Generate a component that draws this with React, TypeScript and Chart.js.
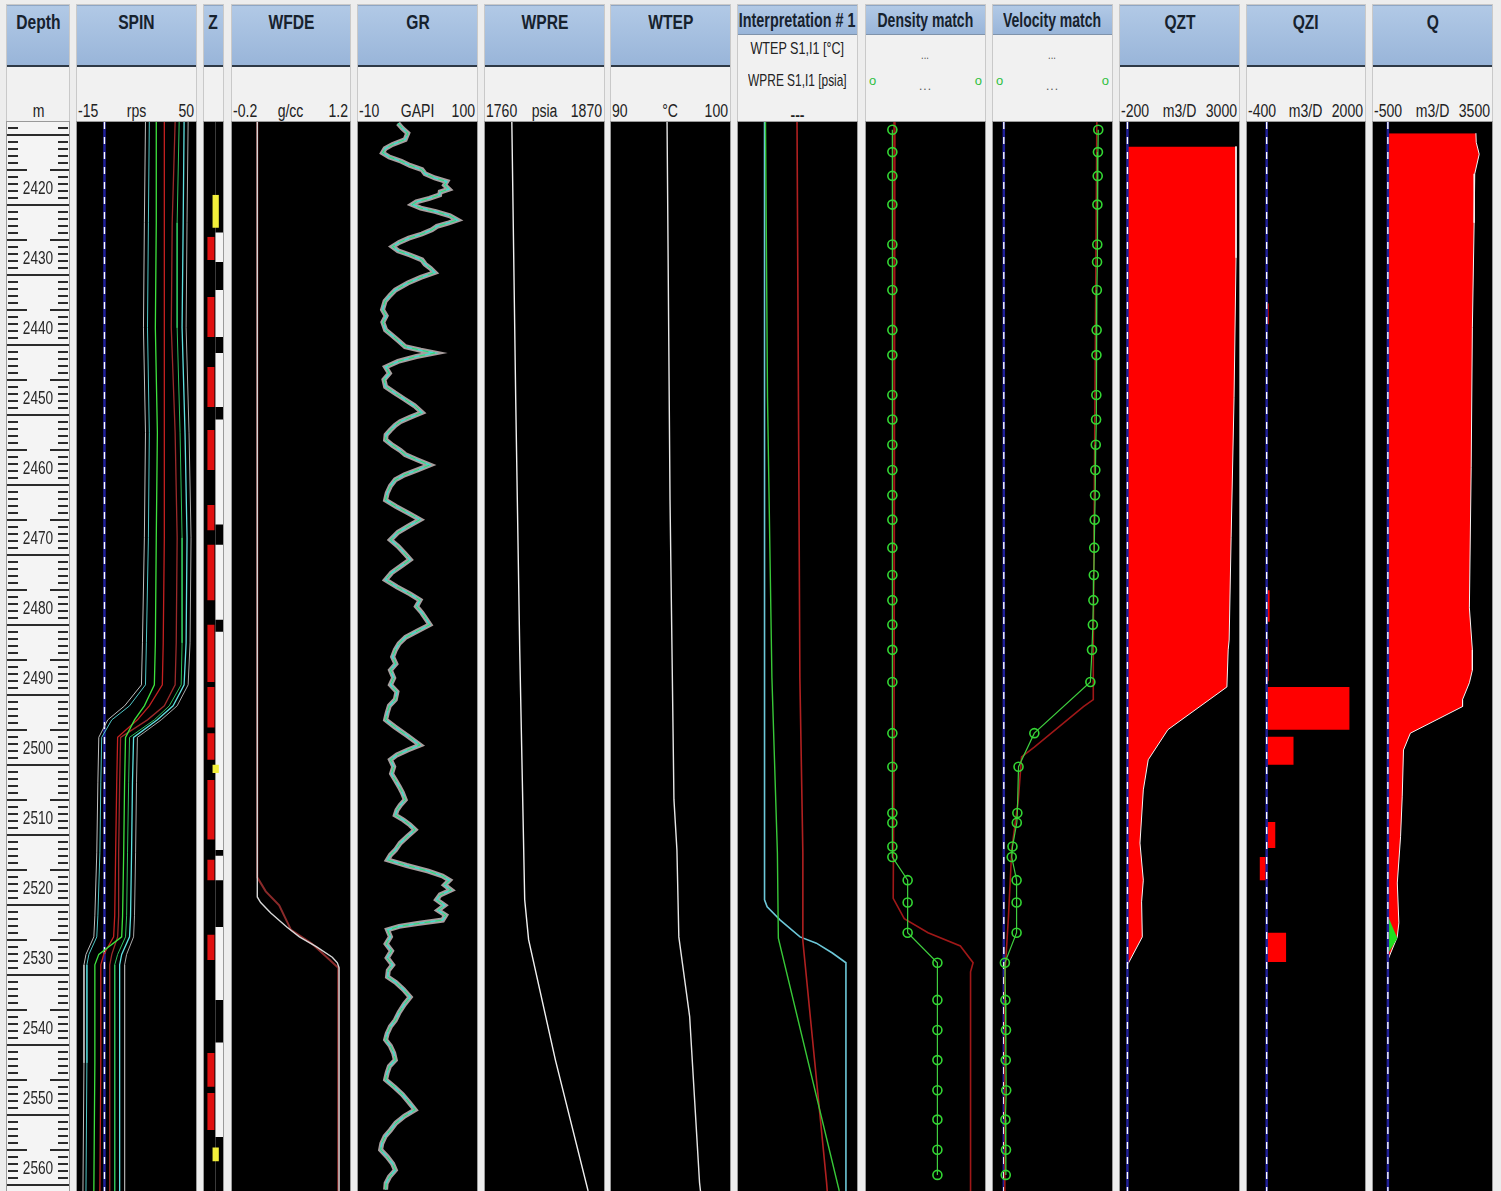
import React, { useEffect, useRef } from "react";
import { Chart, registerables } from "chart.js";

Chart.register(...registerables);

const DEPTH_MIN = 2410.6;
const DEPTH_MAX = 2563.3;
const PLOT_TOP = 122;
const PLOT_H = 1069;
const FONT = '"Liberation Sans", Arial, sans-serif';

const depthLabels = [2420, 2430, 2440, 2450, 2460, 2470, 2480, 2490, 2500, 2510, 2520, 2530, 2540, 2550, 2560];

// ---- SPIN (rps) ----
const spinDepths = [2410.6, 2425, 2440, 2455, 2470, 2485, 2491, 2494, 2496, 2498.5, 2505, 2515, 2524, 2527, 2529.5, 2531, 2545, 2563.3];
const spinPass1 = [22.4, 21.8, 21.3, 22.4, 21.8, 20.75, 20.2, 11.0, 1.8, -3.1, -3.6, -4.2, -5.25, -5.8, -10.1, -11.2, -11.2, -11.75];
const spinPass2 = [24.5, 24.0, 23.5, 24.5, 24.0, 22.9, 22.4, 13.7, 4.0, -1.5, -2.0, -2.5, -3.6, -4.2, -8.5, -9.6, -9.6, -10.1];
const spinPass3 = [28.3, 28.3, 27.8, 28.9, 28.3, 27.8, 27.25, 21.8, 16.4, 11.5, 11.0, 10.5, 9.9, 9.4, -3.1, -5.25, -5.25, -5.8];
const spinPass4 = [32.7, 32.7, 32.7, 32.7, 32.7, 32.1, 31.6, 24.5, 18.0, 7.2, 6.7, 6.1, 5.6, 5.0, -0.4, -2.0, -2.0, -2.5];
const spinPass5 = [38.6, 37.0, 36.5, 38.6, 39.7, 39.2, 38.6, 32.7, 23.5, 8.8, 8.3, 7.75, 7.75, 7.2, 4.0, 2.9, 2.9, 2.9];
const spinPass6 = [40.8, 39.7, 39.7, 41.3, 42.4, 42.4, 41.9, 35.4, 27.25, 13.7, 13.2, 12.6, 12.1, 11.5, 7.2, 5.6, 5.6, 5.6];
const spinPass7 = [43.5, 43.0, 42.4, 44.0, 45.1, 44.6, 43.5, 37.5, 28.9, 15.9, 15.3, 14.8, 14.25, 13.7, 9.4, 8.3, 8.3, 8.3];
const spinPass8 = [45.7, 45.1, 44.6, 46.2, 47.3, 46.75, 45.7, 39.7, 31.0, 18.0, 17.5, 17.0, 16.4, 15.9, 12.1, 11.0, 11.0, 11.0];

// ---- Z zones ----
const zRedTop = [2427.0, 2435.6, 2445.6, 2454.6, 2465.3, 2471.0, 2482.4, 2491.3, 2497.9, 2504.6, 2516.0, 2526.7, 2543.6, 2549.3];
const zRedBottom = [2430.3, 2441.3, 2451.3, 2460.3, 2468.9, 2478.9, 2490.6, 2497.1, 2501.7, 2513.1, 2518.9, 2530.3, 2548.4, 2554.6];
const zBlackTop = [2410.6, 2430.6, 2441.3, 2451.3, 2468.1, 2481.7, 2514.6, 2518.9, 2536.0, 2555.6];
const zBlackBottom = [2426.4, 2434.6, 2443.6, 2453.1, 2471.0, 2483.4, 2515.4, 2525.6, 2542.1, 2563.3];
const zYellowTop = [2421.0, 2502.4, 2557.1];
const zYellowBottom = [2425.7, 2503.6, 2559.1];

// ---- WFDE (g/cc) ----
const wfdeDepths = [2410.6, 2460, 2500, 2521.3, 2522.1, 2523.6, 2525.6, 2527.0, 2528.4, 2529.9, 2530.7, 2531.4, 2563.3];
const wfdeValues = [0.1, 0.1, 0.1, 0.1, 0.14, 0.26, 0.45, 0.6, 0.8, 0.99, 1.05, 1.07, 1.07];
const wfdeAltDepths = [2410.6, 2518.5, 2520.5, 2522.5, 2524.0, 2526.0, 2528.0, 2531.4, 2563.3];
const wfdeAltValues = [0.1, 0.1, 0.2, 0.36, 0.42, 0.5, 0.75, 1.06, 1.06];

// ---- GR (GAPI) ----
const grDepths = [
  2410.8, 2411.5, 2412.2, 2413.1, 2413.8, 2414.4, 2415.0, 2415.6, 2416.2, 2416.8, 2417.4, 2418.0, 2418.6, 2419.1, 2419.6, 2420.2, 2420.6, 2421.0, 2421.5, 2422.0,
  2422.4, 2422.9, 2423.4, 2424.0, 2424.6, 2425.0, 2425.5, 2426.0, 2426.6, 2427.2, 2427.8, 2428.4, 2429.0, 2429.6, 2430.3, 2430.9, 2431.5, 2432.1, 2432.8, 2433.6,
  2434.6, 2435.3, 2436.2, 2437.4, 2438.3, 2439.2, 2440.3, 2441.0, 2441.8, 2442.7, 2443.2, 2443.6, 2444.1, 2444.8, 2445.6, 2446.5, 2447.4, 2448.4, 2449.3, 2450.2,
  2451.1, 2452.1, 2452.8, 2453.4, 2453.9, 2454.6, 2455.3, 2456.0, 2456.8, 2457.5, 2458.1, 2458.8, 2459.6, 2460.3, 2461.0, 2461.7, 2462.6, 2463.6, 2464.6, 2465.5,
  2466.5, 2467.4, 2468.2, 2469.2, 2470.3, 2471.2, 2472.2, 2473.1, 2474.0, 2475.0, 2476.0, 2477.0, 2478.0, 2478.9, 2479.8, 2480.7, 2481.6, 2482.4, 2483.3, 2484.2,
  2485.1, 2486.0, 2487.0, 2488.0, 2488.9, 2490.0, 2491.0, 2492.0, 2493.1, 2494.0, 2495.0, 2496.0, 2497.0, 2498.3, 2499.6, 2500.3, 2501.0, 2501.7, 2502.7, 2503.7,
  2504.6, 2505.5, 2506.4, 2507.4, 2508.2, 2508.9, 2509.6, 2510.3, 2511.0, 2511.7, 2512.6, 2513.6, 2514.6, 2515.3, 2516.0, 2516.8, 2517.6, 2518.3, 2518.9, 2519.6,
  2520.3, 2521.0, 2521.7, 2522.5, 2523.2, 2523.9, 2524.6, 2525.1, 2525.5, 2526.0, 2527.0, 2528.0, 2529.0, 2530.0, 2531.0, 2531.8, 2532.7, 2533.5, 2534.5, 2535.6,
  2536.6, 2537.8, 2538.9, 2539.8, 2540.8, 2541.7, 2542.6, 2543.6, 2544.6, 2545.5, 2546.4, 2547.4, 2548.5, 2549.5, 2550.6, 2551.7, 2552.6, 2553.6, 2554.6, 2555.5,
  2556.5, 2557.4, 2558.4, 2559.4, 2560.3, 2561.3, 2562.2, 2563.1,
];
const grValues = [
  27, 31, 36, 33.6, 22, 15, 12.7, 19, 30, 38, 49.1, 52, 61, 72, 70.0, 74, 66, 65.5, 56, 44,
  40.0, 48, 62, 75, 81.8, 74, 63, 58.2, 49, 37, 28, 21.8, 27, 38, 49.1, 52, 57, 60.9, 48, 36,
  24.5, 20, 15, 12.7, 16, 13, 15.5, 21, 27, 33.6, 48, 60.9, 44, 27, 15.5, 19, 14, 15.5, 24, 33,
  42, 49.1, 38, 29, 24.5, 20, 16, 15.5, 22, 29, 33.6, 44, 56.4, 45, 33, 24.5, 20, 17, 15.5, 25,
  37, 47.3, 38, 27, 20.0, 27, 33, 38.2, 30, 21, 15.5, 26, 38, 47.3, 44, 49, 53, 56.4, 45, 34,
  28, 24.5, 22, 25, 20.0, 23, 20, 26, 24.5, 19, 17, 15.5, 24, 36, 47.3, 36, 26, 20.0, 23, 21,
  24.5, 28, 31, 33.6, 29, 26, 24.5, 32, 38, 42.7, 36, 29, 24.5, 20, 17.3, 35, 55, 68, 74.5, 70,
  76, 66, 62.7, 70, 64, 71, 68.2, 45, 28, 17.3, 20, 16, 21, 17, 22, 18, 17.3, 25, 32, 38.2,
  33, 28, 24.5, 20, 17, 15.5, 20, 23, 24.5, 19, 17, 15.5, 24, 31, 37, 42.7, 33, 25, 20.0, 15,
  12, 10.9, 17, 22, 24.5, 19, 16, 15.5,
];

// ---- WPRE (psia) ----
const wpreDepths = [2410.6, 2450.3, 2486.0, 2521.7, 2527.4, 2544.6, 2563.3];
const wpreValues = [1784.8, 1788.4, 1792.1, 1796.7, 1800.3, 1825.1, 1855.3];

// ---- WTEP (degC) ----
const wtepDepths = [2410.6, 2464.6, 2507.4, 2514.6, 2527.0, 2538.4, 2562.1, 2563.3];
const wtepValues = [94.71, 94.96, 95.29, 95.54, 95.70, 96.61, 97.44, 97.52];

// ---- Interpretation #1 (percent of track) ----
const interpTempDepths = [2410.6, 2450, 2490, 2515, 2527.2, 2563.3];
const interpTempValues = [23.1, 24.8, 28.5, 33.1, 33.9, 85.1];
const interpPresDepths = [2410.6, 2490, 2515, 2527.6, 2562, 2563.3];
const interpPresValues = [49.6, 52.0, 54.5, 54.5, 74.4, 75.0];
const interpDensDepths = [2410.6, 2521.7, 2522.7, 2524.6, 2527.0, 2527.9, 2529.3, 2530.7, 2563.3];
const interpDensValues = [22.3, 22.3, 24.5, 35.5, 52.1, 65.9, 79.3, 90.7, 90.7];

// ---- Stations (density / velocity match) ----
const stationDepths = [2411.7, 2414.9, 2418.3, 2422.4, 2428.1, 2430.6, 2434.6, 2440.3, 2443.9, 2449.6, 2453.1, 2456.7, 2460.3, 2463.9, 2467.4, 2471.4, 2475.3, 2478.9, 2482.4, 2486.0, 2490.6, 2497.9, 2502.7, 2509.3, 2510.7, 2514.1, 2515.6, 2518.9, 2522.1, 2526.4, 2530.7, 2536.0, 2540.3, 2544.6, 2548.9, 2553.1, 2557.4, 2561.0];
const densityStations = [0.11, 0.11, 0.11, 0.11, 0.11, 0.11, 0.11, 0.11, 0.11, 0.11, 0.11, 0.11, 0.11, 0.11, 0.11, 0.11, 0.11, 0.11, 0.11, 0.11, 0.11, 0.11, 0.11, 0.11, 0.11, 0.11, 0.11, 0.29, 0.29, 0.29, 0.64, 0.64, 0.64, 0.64, 0.64, 0.64, 0.64, 0.64];
const velocityStations = [87.3, 87.0, 86.8, 86.5, 86.4, 86.2, 86.0, 85.8, 85.6, 85.5, 85.3, 85.0, 84.6, 84.3, 84.0, 83.6, 83.2, 82.8, 82.3, 81.5, 80.0, 28.2, 13.6, 12.5, 12.0, 8.0, 7.3, 11.8, 11.8, 11.8, 1.0, 1.5, 2.0, 1.8, 2.2, 1.5, 2.0, 1.8];
const densityModelDepths = [2410.6, 2500, 2521.5, 2524.4, 2526.4, 2528.3, 2530.7, 2532.0, 2563.3];
const densityModelValues = [0.14, 0.13, 0.12, 0.25, 0.53, 0.91, 1.06, 1.03, 1.03];
const velocityModelDepths = [2410.6, 2486.0, 2493.1, 2494.1, 2499.9, 2501.3, 2507.4, 2514.6, 2524.1, 2532.7, 2563.3];
const velocityModelValues = [86.0, 82.7, 82.7, 73.6, 28.2, 16.4, 13.4, 7.3, 4.3, 0.9, 0.9];

// ---- QZT (m3/D) ----
const qztDepths = [2414.1, 2430, 2450, 2470, 2484.6, 2486.0, 2491.3, 2497.4, 2501.7, 2506.0, 2513.6, 2518.9, 2522.0, 2527.0, 2530.3, 2531.0];
const qztValues = [2920, 2920, 2867, 2788, 2735, 2709, 2675, 1088, 559, 427, 337, 427, 381, 400, 72, 0];

// ---- QZI (m3/D) ----
const qziTop = [2436.5, 2477.5, 2484.5, 2491.3, 2498.4, 2510.6, 2515.6, 2526.4];
const qziBottom = [2439.5, 2482.0, 2490.5, 2497.4, 2502.4, 2514.3, 2518.9, 2530.6];
const qziValues = [40, 60, 40, 1683, 546, 175, -140, 395];

// ---- Q (m3/D) ----
const qDepths = [2412.2, 2413.5, 2415.2, 2418.0, 2425.0, 2440.0, 2460.0, 2480.0, 2486.0, 2488.9, 2490.7, 2493.1, 2494.1, 2497.9, 2500.3, 2507.0, 2512.7, 2519.3, 2525.0, 2527.0, 2529.3, 2530.3];
const qValues = [2960, 2970, 3070, 2920, 2900, 2840, 2800, 2740, 2840, 2840, 2740, 2510, 2510, 756, 525, 482, 426, 317, 369, 317, 95, 0];
const qSecondDepths = [2524.0, 2525.5, 2527.2, 2529.4];
const qSecondValues = [0, 150, 320, 0];

// ---- header scale labels ----
const spinScale = ["-15", "rps", "50"];
const wfdeScale = ["-0.2", "g/cc", "1.2"];
const grScale = ["-10", "GAPI", "100"];
const wpreScale = ["1760", "psia", "1870"];
const wtepScale = ["90", "\u00B0C", "100"];
const qztScale = ["-200", "m3/D", "3000"];
const qziScale = ["-400", "m3/D", "2000"];
const qScale = ["-500", "m3/D", "3500"];
const interpLegend = ["WTEP  S1,I1 [\u00B0C]", "WPRE  S1,I1 [psia]"];

// ---------- helpers ----------
type P = { x: number; y: number };
const pts = (ds: number[], vs: number[]): P[] => ds.map((d, i) => ({ x: vs[i], y: d }));
const blocks = (tops: number[], bottoms: number[], values: number[] | number, base: number): P[] => {
  const out: P[] = [];
  tops.forEach((t, i) => {
    const v = Array.isArray(values) ? values[i] : values;
    out.push({ x: base, y: t }, { x: v, y: t }, { x: v, y: bottoms[i] }, { x: base, y: bottoms[i] });
  });
  return out;
};
const line = (data: P[], color: string, width = 1, extra: any = {}) => ({
  data, borderColor: color, borderWidth: width, pointRadius: 0, fill: false, ...extra,
});
// painted bottom-to-top in the order listed
const zeroLine = () => [
  line([{ x: 0, y: DEPTH_MIN }, { x: 0, y: DEPTH_MAX }], "#20209a", 2.5),
  line([{ x: 0, y: DEPTH_MIN }, { x: 0, y: DEPTH_MAX }], "#ffffff", 1.4, { borderDash: [7, 8] }),
];

const bgPlugin = (color: string) => ({
  id: "bg",
  beforeDraw(chart: any) {
    const { ctx, chartArea: a } = chart;
    ctx.save();
    ctx.fillStyle = color;
    ctx.fillRect(a.left, a.top, a.right - a.left, a.bottom - a.top);
    ctx.restore();
  },
});

const zBackPlugin = {
  id: "zback",
  beforeDatasetsDraw(chart: any) {
    const { ctx, chartArea: a, scales } = chart;
    const xs = scales.x.getPixelForValue(0.6);
    ctx.save();
    ctx.fillStyle = "#f4f4f4";
    ctx.fillRect(xs, a.top, a.right - xs, a.bottom - a.top);
    ctx.restore();
  },
};

const depthTicksPlugin = {
  id: "depthTicks",
  afterDraw(chart: any) {
    const { ctx, chartArea: a, scales } = chart;
    const y = scales.y;
    ctx.save();
    ctx.strokeStyle = "#2b2b2b";
    ctx.lineWidth = 2;
    for (let k = Math.ceil(DEPTH_MIN); k <= DEPTH_MAX; k++) {
      const py = Math.round(y.getPixelForValue(k + 0.5));
      const r = ((k % 10) + 10) % 10;
      ctx.beginPath();
      if (r === 2) {
        ctx.moveTo(a.left, py); ctx.lineTo(a.right, py);
      } else if (r === 7) {
        ctx.moveTo(a.left, py); ctx.lineTo(a.left + 20, py);
        ctx.moveTo(a.right - 19, py); ctx.lineTo(a.right, py);
      } else {
        ctx.moveTo(a.left + 1, py); ctx.lineTo(a.left + 11, py);
        ctx.moveTo(a.right - 11, py); ctx.lineTo(a.right - 1, py);
      }
      ctx.stroke();
    }
    ctx.fillStyle = "#262626";
    ctx.font = `18px ${FONT}`;
    ctx.textAlign = "center";
    ctx.textBaseline = "middle";
    depthLabels.forEach((d) => {
      ctx.save();
      ctx.translate((a.left + a.right) / 2, y.getPixelForValue(d) + 1);
      ctx.scale(0.76, 1);
      ctx.fillText(String(d), 0, 0);
      ctx.restore();
    });
    ctx.restore();
  },
};

function Track({ left, width, xMin, xMax, datasets, bg = "#000", plugins = [] }: any) {
  const ref = useRef<HTMLCanvasElement>(null);
  useEffect(() => {
    const chart = new Chart(ref.current as HTMLCanvasElement, {
      type: "line",
      // Chart.js paints index 0 last, so reverse to paint in listed order
      data: { datasets: datasets.slice().reverse() },
      options: {
        indexAxis: "y",
        animation: false,
        responsive: false,
        maintainAspectRatio: false,
        events: [],
        layout: { padding: 0, autoPadding: false },
        plugins: { legend: { display: false }, tooltip: { enabled: false } },
        scales: {
          x: { type: "linear", min: xMin, max: xMax, display: false },
          y: { type: "linear", min: DEPTH_MIN, max: DEPTH_MAX, reverse: true, display: false },
        },
        elements: { point: { radius: 0 }, line: { tension: 0 } },
      } as any,
      plugins: [bgPlugin(bg), ...plugins],
    });
    return () => chart.destroy();
  }, []);
  return (
    <canvas
      ref={ref}
      width={width}
      height={PLOT_H}
      style={{ position: "absolute", left, top: PLOT_TOP, width, height: PLOT_H, outline: "1px solid #9a9a9a" }}
    />
  );
}

// narrow text: a normal face squeezed horizontally
function NText({ left, top, width, align = "center", size = 18, bold = false, sx = 0.78, color = "#222", spacing = 0, children }: any) {
  const pad = align === "center" ? 80 : 0;
  return (
    <div style={{ position: "absolute", left: left - pad, top, width: width + 2 * pad, textAlign: align, whiteSpace: "nowrap", font: `${bold ? "bold " : ""}${size}px ${FONT}`, lineHeight: 1, color, letterSpacing: spacing }}>
      <span style={{ display: "inline-block", transform: `scaleX(${sx})`, transformOrigin: align === "left" ? "left center" : align === "right" ? "right center" : "center center" }}>{children}</span>
    </div>
  );
}

function Header({ left, width, title, scale, tall = true, titleScale = 0.78, children }: any) {
  return (
    <>
      <div style={{ position: "absolute", left, top: 5, width, height: PLOT_TOP - 5, background: "#f1f1f1", outline: "1px solid #c9c9c9" }} />
      <div style={{
        position: "absolute", left, top: 5, width, height: tall ? 62 : 30, boxSizing: "border-box",
        background: "linear-gradient(#b1c9e6, #99b5d9)", borderTop: "1px solid #8ea6c4",
        borderBottom: tall ? "2px solid #2e3946" : "1px solid #7f93ab",
      }} />
      <NText left={left} top={tall ? 12 : 10} width={width} size={20} bold sx={titleScale} color="#17222e">{title}</NText>
      {scale && (
        <>
          <NText left={left + 1} top={102} width={width - 2} align="left">{scale[0]}</NText>
          <NText left={left} top={102} width={width}>{scale[1]}</NText>
          <NText left={left} top={102} width={width - 2} align="right">{scale[2]}</NText>
        </>
      )}
      {children}
    </>
  );
}

function MatchHeader({ left, width, title }: any) {
  return (
    <Header left={left} width={width} title={title} tall={false} titleScale={0.7}>
      <NText left={left} top={49} width={width} size={12} color="#555">...</NText>
      <NText left={left + 3} top={74} width={12} size={13} align="left" color="#2fbf3f" sx={1}>o</NText>
      <NText left={left + width - 15} top={74} width={12} size={13} align="right" color="#2fbf3f" sx={1}>o</NText>
      <NText left={left} top={80} width={width} size={12} color="#555" sx={1} spacing="1px">...</NText>
    </Header>
  );
}

export default function App() {
  const spinSets = [
    ...zeroLine(),
    line(pts(spinDepths, spinPass8), "#a9a9a9"),
    line(pts(spinDepths, spinPass7), "#5fe0e0", 1.3),
    line(pts(spinDepths, spinPass6), "#2fc05b"),
    line(pts(spinDepths, spinPass5), "#9b2a2a", 1.3),
    line(pts(spinDepths, spinPass4), "#c42020", 1.3),
    line(pts(spinDepths, spinPass3), "#3de23d", 1.3),
    line(pts(spinDepths, spinPass2), "#4fc6c6"),
    line(pts(spinDepths, spinPass1), "#bdbdbd"),
  ];
  const zSets = [
    line(blocks(zBlackTop, zBlackBottom, 1, 0.6), "rgba(0,0,0,0)", 0, { fill: { value: 0.6 }, backgroundColor: "#000" }),
    line(blocks(zRedTop, zRedBottom, 0.55, 0.18), "rgba(0,0,0,0)", 0, { fill: { value: 0.18 }, backgroundColor: "#e01010" }),
    line(blocks(zYellowTop, zYellowBottom, 0.78, 0.45), "rgba(0,0,0,0)", 0, { fill: { value: 0.45 }, backgroundColor: "#f2ee3a" }),
  ];
  const wfdeSets = [
    line(pts(wfdeAltDepths, wfdeAltValues), "#8a2a2a", 2),
    line(pts(wfdeDepths, wfdeValues), "#d8d8d8", 1.4),
  ];
  const grSets = [
    line(pts(grDepths, grValues), "#a89e9e", 5),
    line(pts(grDepths, grValues), "#45dccb", 1.6),
    line(pts(grDepths, grValues), "#3ccf55", 0.8, { borderDash: [6, 5] }),
  ];
  const wpreSets = [line(pts(wpreDepths, wpreValues), "#f0f0f0", 1.4)];
  const wtepSets = [line(pts(wtepDepths, wtepValues), "#e6e6e6", 1.4)];
  const interpSets = [
    line(pts(interpDensDepths, interpDensValues), "#6cc7d8", 1.6),
    line(pts(interpPresDepths, interpPresValues), "#b02020", 1.6),
    line(pts(interpTempDepths, interpTempValues), "#38c838", 1.4),
  ];
  const circle = { pointRadius: 4.5, pointStyle: "circle", pointBorderColor: "#33d633", pointBackgroundColor: "rgba(0,0,0,0)", pointBorderWidth: 1.6 };
  const densSets = [
    line(pts(densityModelDepths, densityModelValues), "#a01818", 1.6),
    line(pts(stationDepths, densityStations), "#3fcf3f", 1.2, circle),
  ];
  const veloSets = [
    ...zeroLine(),
    line(pts(velocityModelDepths, velocityModelValues), "#a01818", 1.6),
    line(pts(stationDepths, velocityStations), "#3fcf3f", 1.2, circle),
  ];
  const qztSets = [
    line(pts(qztDepths, qztValues), "#f4f4f4", 1, { fill: "origin", backgroundColor: "#ff0000" }),
    ...zeroLine(),
  ];
  const qziSets = [
    line(blocks(qziTop, qziBottom, qziValues, 0), "rgba(0,0,0,0)", 0, { fill: "origin", backgroundColor: "#ff0000" }),
    ...zeroLine(),
  ];
  const qSets = [
    line(pts(qDepths, qValues), "#f4f4f4", 1, { fill: "origin", backgroundColor: "#ff0000" }),
    line(pts(qSecondDepths, qSecondValues), "rgba(0,0,0,0)", 0, { fill: "origin", backgroundColor: "#20e020" }),
    ...zeroLine(),
  ];

  return (
    <div style={{ position: "fixed", left: 0, top: 0, width: 1501, height: 1191, background: "#ededed", overflow: "hidden" }}>
      <Header left={7} width={62} title="Depth" scale={["", "m", ""]} />
      <Header left={77} width={119} title="SPIN" scale={spinScale} />
      <Header left={204} width={19} title="Z" />
      <Header left={232} width={118} title="WFDE" scale={wfdeScale} />
      <Header left={358} width={119} title="GR" scale={grScale} />
      <Header left={485} width={119} title="WPRE" scale={wpreScale} />
      <Header left={611} width={119} title="WTEP" scale={wtepScale} />
      <Header left={738} width={119} title="Interpretation # 1" tall={false} titleScale={0.72}>
        <NText left={738} top={40} width={119} size={17} sx={0.74}>{interpLegend[0]}</NText>
        <NText left={738} top={72} width={119} size={17} sx={0.7}>{interpLegend[1]}</NText>
        <NText left={738} top={108} width={119} size={14} bold sx={1}>---</NText>
      </Header>
      <MatchHeader left={866} width={119} title="Density match" />
      <MatchHeader left={993} width={119} title="Velocity match" />
      <Header left={1120} width={119} title="QZT" scale={qztScale} />
      <Header left={1247} width={118} title="QZI" scale={qziScale} />
      <Header left={1373} width={119} title="Q" scale={qScale} />

      <Track left={7} width={62} xMin={0} xMax={1} datasets={[]} bg="#f4f4f4" plugins={[depthTicksPlugin]} />
      <Track left={77} width={119} xMin={-15} xMax={50} datasets={spinSets} />
      <Track left={204} width={19} xMin={0} xMax={1} datasets={zSets} plugins={[zBackPlugin]} />
      <Track left={232} width={118} xMin={-0.2} xMax={1.2} datasets={wfdeSets} />
      <Track left={358} width={119} xMin={-10} xMax={100} datasets={grSets} />
      <Track left={485} width={119} xMin={1760} xMax={1870} datasets={wpreSets} />
      <Track left={611} width={119} xMin={90} xMax={100} datasets={wtepSets} />
      <Track left={738} width={119} xMin={0} xMax={100} datasets={interpSets} />
      <Track left={866} width={119} xMin={-0.2} xMax={1.2} datasets={densSets} />
      <Track left={993} width={119} xMin={-10} xMax={100} datasets={veloSets} />
      <Track left={1120} width={119} xMin={-200} xMax={3000} datasets={qztSets} />
      <Track left={1247} width={118} xMin={-400} xMax={2000} datasets={qziSets} />
      <Track left={1373} width={119} xMin={-500} xMax={3500} datasets={qSets} />
    </div>
  );
}
